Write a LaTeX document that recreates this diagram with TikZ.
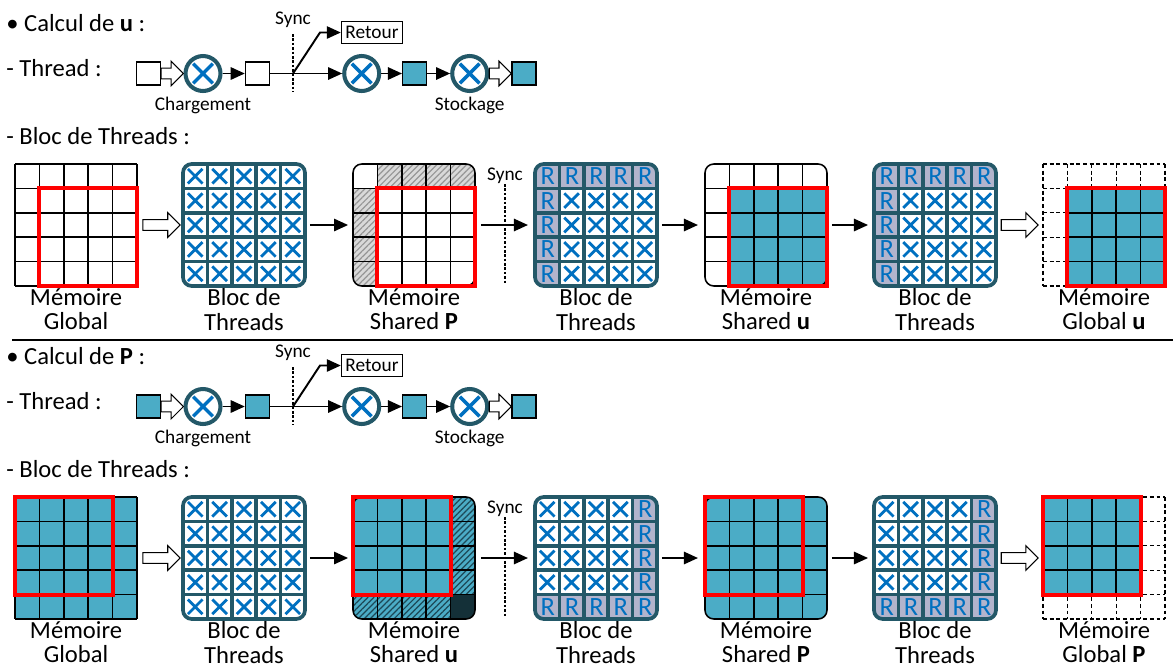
\documentclass[tikz,border=0pt]{standalone}
\usepackage{fontspec}
\setmainfont{Carlito}
\usetikzlibrary{arrows.meta,calc,positioning,patterns.meta}

\definecolor{cellteal}{RGB}{75,172,198}
\definecolor{blocdark}{RGB}{35,88,104}
\definecolor{xblue}{RGB}{0,112,192}
\definecolor{rgrey}{RGB}{178,180,204}
\definecolor{hatchbg}{RGB}{217,217,217}
\definecolor{hatchln}{RGB}{150,150,150}
\definecolor{tealln}{RGB}{28,72,86}
\definecolor{tealdark}{RGB}{20,48,56}

\tikzset{
	cellunit/.style={x=0.488cm, y=-0.488cm},
	memline/.style={black, line width=0.9pt},
	dashline/.style={black, line width=0.7pt, dash pattern=on 2.2pt off 1.6pt},
	redbox/.style={red, line width=2.2pt},
	xcross/.style={xblue, line width=1.6pt},
	rlabel/.style={text=xblue, font=\fontsize{15}{15}\selectfont, inner sep=0pt},
	hatchgrey/.style={pattern={Lines[angle=45,distance=2.4pt,line width=0.7pt]}, pattern color=hatchln},
	hatchteal/.style={pattern={Lines[angle=45,distance=2.4pt,line width=0.7pt]}, pattern color=tealln},
	gridnode/.style={minimum size=2.44cm, inner sep=0pt, outer sep=0pt}
}

% grid lines of the cells between columns #2..#3 and rows #4..#5
\newcommand{\gridpart}[5][memline]{%
	\foreach \k in {#2,...,#3} \draw[#1] (\k,#4) -- (\k,#5);
	\foreach \k in {#4,...,#5} \draw[#1] (#2,\k) -- (#3,\k);
}

% bloc de threads: corner (#1,#2), row #3 and column #4 hold R
\newcommand{\blocthreads}[4]{%
	\begin{scope}[shift={(#1,#2)}, cellunit]
		\begin{scope}
			\clip[rounded corners=5pt] (0,0) rectangle (5,5);
			\fill[white] (0,0) rectangle (5,5);
			\foreach \i in {0,...,4} {
				\foreach \j in {0,...,4} {
					\pgfmathtruncatemacro{\isR}{(\i==#3)||(\j==#4)}
					\ifnum\isR=1
						\fill[rgrey] (\j,\i) rectangle ++(1,1);
						\node[rlabel] at (\j+0.52,\i+0.5) {R};
					\else
						\draw[xcross] (\j+0.2,\i+0.2) -- (\j+0.8,\i+0.8) (\j+0.2,\i+0.8) -- (\j+0.8,\i+0.2);
					\fi
				}
			}
		\end{scope}
		\foreach \k in {1,...,4} \draw[blocdark, line width=2.1pt] (\k,0) -- (\k,5) (0,\k) -- (5,\k);
		\draw[blocdark, line width=2.1pt, rounded corners=5pt] (0,0) rectangle (5,5);
	\end{scope}}

\begin{document}
\begin{tikzpicture}[x=0.02cm, y=-0.02cm,
	head/.style={font=\fontsize{14}{16}\selectfont, anchor=base west, inner sep=0pt},
	lbl/.style={font=\fontsize{14}{14}\selectfont, align=center, inner sep=0pt},
	small/.style={font=\fontsize{11}{12}\selectfont, inner sep=1pt},
	retbox/.style={draw, line width=0.8pt, font=\fontsize{11}{12}\selectfont, minimum width=1.22cm, minimum height=0.44cm, inner sep=1pt},
	tbox/.style={draw, line width=0.8pt, fill=white, minimum width=0.48cm, minimum height=0.46cm, inner sep=0pt},
	mult/.style={circle, draw=blocdark, line width=2.3pt, fill=white, minimum size=0.7cm, inner sep=0pt,
		path picture={\draw[xblue, line width=2pt]
			([shift={(-5.6pt,-5.6pt)}]path picture bounding box.center) -- ([shift={(5.6pt,5.6pt)}]path picture bounding box.center)
			([shift={(-5.6pt,5.6pt)}]path picture bounding box.center) -- ([shift={(5.6pt,-5.6pt)}]path picture bounding box.center);}},
	arr/.style={-{Triangle[length=8pt,width=7pt]}, line width=1.1pt},
	hollow/.style={draw, fill=white, line width=0.6pt,
		to path={let \p1=(\tikztostart), \p2=(\tikztotarget) in
			(\x1,\y1+3.1pt) -- (\x2-7pt,\y1+3.1pt) -- (\x2-7pt,\y1+7pt) -- (\x2,\y1)
			-- (\x2-7pt,\y1-7pt) -- (\x2-7pt,\y1-3.1pt) -- (\x1,\y1-3.1pt) -- cycle}},
	syncline/.style={line width=0.6pt, dash pattern=on 1.5pt off 1pt}]
\useasboundingbox (0,0) rectangle (1173,667);

% ---- calcul de u
\node[head] at (6,31) {• Calcul de \textbf{u} :};
\node[head] at (6,76) {- Thread :};
\node[head] at (6,144) {- Bloc de Threads :};

\node[tbox] (tu1) at (148.5,73.5) {};
\node[mult] (mu1) at (203,73.5) {};
\node[tbox] (tu2) at (257.5,73.5) {};
\node[mult] (mu2) at (361.7,73.5) {};
\node[tbox, fill=cellteal] (tu3) at (414.7,73.5) {};
\node[mult] (mu3) at (469.7,73.5) {};
\node[tbox, fill=cellteal] (tu4) at (524,73.5) {};
\node[retbox] (ru) at (372,32.5) {Retour};
\node[small] (su) at (293,20) {Sync};
\node[small] (chu) at (203,105) {Chargement};
\node[small] (stu) at (469.7,105) {Stockage};
\coordinate (yu) at (293,73.5);
\coordinate (ku) at (320,32.5);
\draw[syncline] (293,34) -- (293,92);
\draw[hollow] (tu1.east) to (mu1.west);
\draw[arr] (mu1) -- (tu2);
\draw[arr] (tu2) -- (mu2);
\draw[arr] (yu) -- (ku) -- (ru);
\draw[arr] (mu2) -- (tu3);
\draw[arr] (tu3) -- (mu3);
\draw[hollow] (mu3.east) to (tu4.west);

% memoire global
\begin{scope}[shift={(15,164)}, cellunit]
	\gridpart{0}{5}{0}{5}
	\draw[redbox] (1,1) rectangle (5,5);
\end{scope}
\blocthreads{183}{164}{-1}{-1}
% memoire shared P
\begin{scope}[shift={(353,164)}, cellunit]
	\begin{scope}
		\clip[rounded corners=5pt] (0,0) rectangle (5,5);
		\fill[hatchbg] (1,0) rectangle (5,1) (0,1) rectangle (1,5);
		\fill[hatchgrey] (1,0) rectangle (5,1) (0,1) rectangle (1,5);
		\gridpart{0}{5}{0}{5}
	\end{scope}
	\draw[memline, rounded corners=5pt] (0,0) rectangle (5,5);
	\draw[redbox] (1,1) rectangle (5,5);
\end{scope}
\blocthreads{535}{164}{0}{0}
% memoire shared u
\begin{scope}[shift={(705,164)}, cellunit]
	\begin{scope}
		\clip[rounded corners=5pt] (0,0) rectangle (5,5);
		\fill[cellteal] (1,1) rectangle (5,5);
		\gridpart{0}{5}{0}{5}
	\end{scope}
	\draw[memline, rounded corners=5pt] (0,0) rectangle (5,5);
	\draw[redbox] (1,1) rectangle (5,5);
\end{scope}
\blocthreads{874}{164}{0}{0}
% memoire global u
\begin{scope}[shift={(1043,164)}, cellunit]
	\fill[cellteal] (1,1) rectangle (5,5);
	\gridpart[dashline]{0}{5}{0}{5}
	\gridpart{1}{5}{1}{5}
	\draw[redbox] (1,1) rectangle (5,5);
\end{scope}

\node[gridnode] (gu1) at (76,225) {};
\node[gridnode] (gu2) at (244,225) {};
\node[gridnode] (gu3) at (414,225) {};
\node[gridnode] (gu4) at (596,225) {};
\node[gridnode] (gu5) at (766,225) {};
\node[gridnode] (gu6) at (935,225) {};
\node[gridnode] (gu7) at (1104,225) {};
\node[small] (sgu) at (505,176) {Sync};
\draw[syncline] (505,184) -- (505,285);
\draw[hollow] ([xshift=3.4pt]gu1.east) to ([xshift=-1.7pt]gu2.west);
\draw[arr, shorten <=2.8pt, shorten >=2.8pt] (gu2) -- (gu3);
\draw[arr, shorten <=3.4pt, shorten >=4pt] (gu3) -- (gu4);
\draw[arr, shorten <=2.8pt, shorten >=4pt] (gu4) -- (gu5);
\draw[arr, shorten <=2.8pt, shorten >=3.4pt] (gu5) -- (gu6);
\draw[hollow] ([xshift=3pt]gu6.east) to ([xshift=-2.8pt]gu7.west);
\node[lbl, below=1.2pt of gu1] (lu1) {Mémoire\\Global};
\node[lbl, below=1.2pt of gu2] (lu2) {Bloc de\\Threads};
\node[lbl, below=1.2pt of gu3] (lu3) {Mémoire\\Shared \textbf{P}};
\node[lbl, below=1.2pt of gu4] (lu4) {Bloc de\\Threads};
\node[lbl, below=1.2pt of gu5] (lu5) {Mémoire\\Shared \textbf{u}};
\node[lbl, below=1.2pt of gu6] (lu6) {Bloc de\\Threads};
\node[lbl, below=1.2pt of gu7] (lu7) {Mémoire\\Global \textbf{u}};

\draw[line width=1pt] (12,340) -- (1173,340);

% ---- calcul de P
\begin{scope}[shift={(0,333)}]
\node[head] at (6,31) {• Calcul de \textbf{P} :};
\node[head] at (6,76) {- Thread :};
\node[head] at (6,144) {- Bloc de Threads :};

\node[tbox, fill=cellteal] (tp1) at (148.5,73.5) {};
\node[mult] (mp1) at (203,73.5) {};
\node[tbox, fill=cellteal] (tp2) at (257.5,73.5) {};
\node[mult] (mp2) at (361.7,73.5) {};
\node[tbox, fill=cellteal] (tp3) at (414.7,73.5) {};
\node[mult] (mp3) at (469.7,73.5) {};
\node[tbox, fill=cellteal] (tp4) at (524,73.5) {};
\node[retbox] (rp) at (372,32.5) {Retour};
\node[small] (sp) at (293,20) {Sync};
\node[small] (chp) at (203,105) {Chargement};
\node[small] (stp) at (469.7,105) {Stockage};
\coordinate (yp) at (293,73.5);
\coordinate (kp) at (320,32.5);
\draw[syncline] (293,34) -- (293,92);
\draw[hollow] (tp1.east) to (mp1.west);
\draw[arr] (mp1) -- (tp2);
\draw[arr] (tp2) -- (mp2);
\draw[arr] (yp) -- (kp) -- (rp);
\draw[arr] (mp2) -- (tp3);
\draw[arr] (tp3) -- (mp3);
\draw[hollow] (mp3.east) to (tp4.west);

% memoire global
\begin{scope}[shift={(15,164)}, cellunit]
	\fill[cellteal] (0,0) rectangle (5,5);
	\gridpart{0}{5}{0}{5}
	\draw[redbox] (0,0) rectangle (4,4);
\end{scope}
\blocthreads{183}{164}{-1}{-1}
% memoire shared u
\begin{scope}[shift={(353,164)}, cellunit]
	\begin{scope}
		\clip[rounded corners=5pt] (0,0) rectangle (5,5);
		\fill[cellteal] (0,0) rectangle (5,5);
		\fill[hatchteal] (4,0) rectangle (5,4) (0,4) rectangle (4,5);
		\fill[tealdark] (4,4) rectangle (5,5);
		\gridpart{0}{5}{0}{5}
	\end{scope}
	\draw[memline, rounded corners=5pt] (0,0) rectangle (5,5);
	\draw[redbox] (0,0) rectangle (4,4);
\end{scope}
\blocthreads{535}{164}{4}{4}
% memoire shared P
\begin{scope}[shift={(705,164)}, cellunit]
	\begin{scope}
		\clip[rounded corners=5pt] (0,0) rectangle (5,5);
		\fill[cellteal] (0,0) rectangle (5,5);
		\gridpart{0}{5}{0}{5}
	\end{scope}
	\draw[memline, rounded corners=5pt] (0,0) rectangle (5,5);
	\draw[redbox] (0,0) rectangle (4,4);
\end{scope}
\blocthreads{874}{164}{4}{4}
% memoire global P
\begin{scope}[shift={(1043,164)}, cellunit]
	\fill[cellteal] (0,0) rectangle (4,4);
	\gridpart[dashline]{0}{5}{0}{5}
	\gridpart{0}{4}{0}{4}
	\draw[redbox] (0,0) rectangle (4,4);
\end{scope}

\node[gridnode] (gp1) at (76,225) {};
\node[gridnode] (gp2) at (244,225) {};
\node[gridnode] (gp3) at (414,225) {};
\node[gridnode] (gp4) at (596,225) {};
\node[gridnode] (gp5) at (766,225) {};
\node[gridnode] (gp6) at (935,225) {};
\node[gridnode] (gp7) at (1104,225) {};
\node[small] (sgp) at (505,176) {Sync};
\draw[syncline] (505,184) -- (505,285);
\draw[hollow] ([xshift=3.4pt]gp1.east) to ([xshift=-1.7pt]gp2.west);
\draw[arr, shorten <=2.8pt, shorten >=2.8pt] (gp2) -- (gp3);
\draw[arr, shorten <=3.4pt, shorten >=4pt] (gp3) -- (gp4);
\draw[arr, shorten <=2.8pt, shorten >=4pt] (gp4) -- (gp5);
\draw[arr, shorten <=2.8pt, shorten >=3.4pt] (gp5) -- (gp6);
\draw[hollow] ([xshift=3pt]gp6.east) to ([xshift=-2.8pt]gp7.west);
\node[lbl, below=1.2pt of gp1] (lp1) {Mémoire\\Global};
\node[lbl, below=1.2pt of gp2] (lp2) {Bloc de\\Threads};
\node[lbl, below=1.2pt of gp3] (lp3) {Mémoire\\Shared \textbf{u}};
\node[lbl, below=1.2pt of gp4] (lp4) {Bloc de\\Threads};
\node[lbl, below=1.2pt of gp5] (lp5) {Mémoire\\Shared \textbf{P}};
\node[lbl, below=1.2pt of gp6] (lp6) {Bloc de\\Threads};
\node[lbl, below=1.2pt of gp7] (lp7) {Mémoire\\Global \textbf{P}};
\end{scope}
\end{tikzpicture}
\end{document}
